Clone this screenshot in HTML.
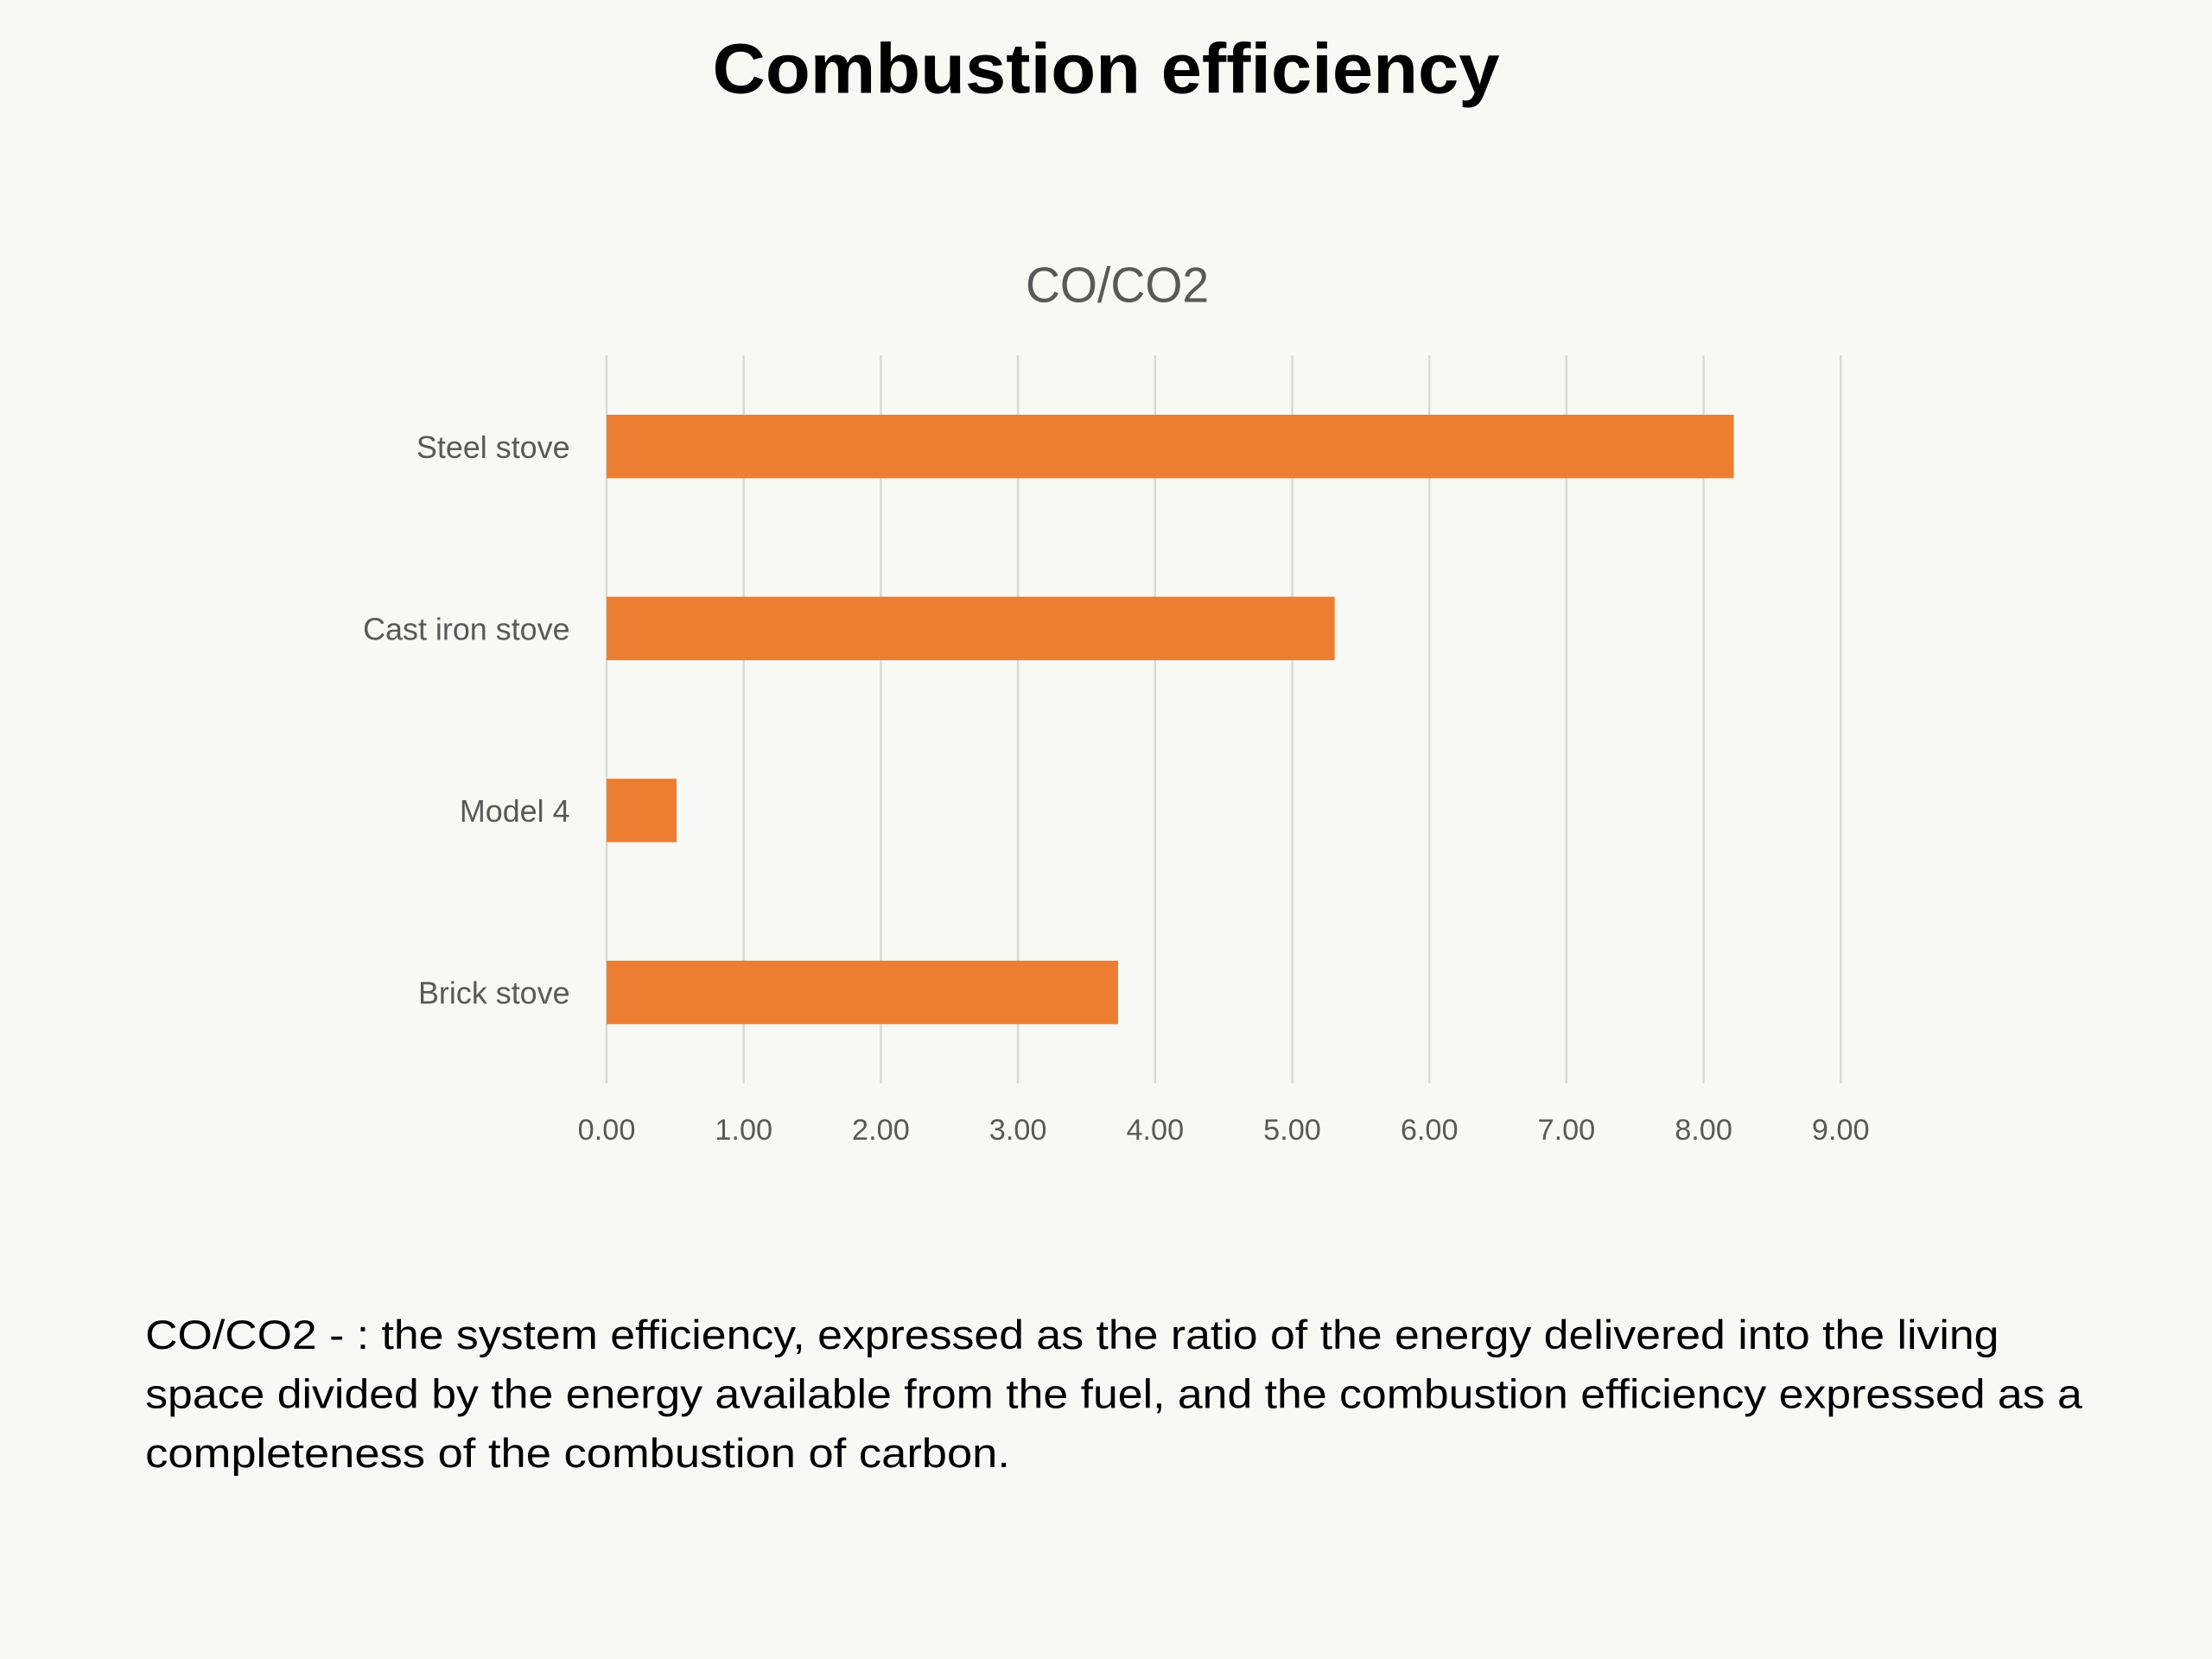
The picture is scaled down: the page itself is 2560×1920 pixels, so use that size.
<!DOCTYPE html>
<html><head><meta charset="utf-8"><style>
html,body{margin:0;padding:0;background:#f8f9f5;}
svg{display:block;}
text{font-family:"Liberation Sans",sans-serif;}
</style></head><body>
<svg width="2560" height="1920" viewBox="0 0 1568 1176" xmlns="http://www.w3.org/2000/svg">
<rect width="1568" height="1176" fill="#f8f9f5"/>
<text x="784" y="66" text-anchor="middle" font-size="50" font-weight="bold" fill="#000" textLength="558" lengthAdjust="spacingAndGlyphs">Combustion efficiency</text>
<text x="792" y="214" text-anchor="middle" font-size="35" fill="#595959" textLength="130" lengthAdjust="spacingAndGlyphs">CO/CO2</text>
<g id="grid"></g>
<g id="bars"></g>
<g id="cats"></g>
<g id="ticks"></g>
<g font-size="29" fill="#000">
<text x="103" y="956" textLength="1314" lengthAdjust="spacingAndGlyphs">CO/CO2 - : the system efficiency, expressed as the ratio of the energy delivered into the living</text>
<text x="103" y="998" textLength="1373" lengthAdjust="spacingAndGlyphs">space divided by the energy available from the fuel, and the combustion efficiency expressed as a</text>
<text x="103" y="1040" textLength="613" lengthAdjust="spacingAndGlyphs">completeness of the combustion of carbon.</text>
</g>
</svg>
<script>
const categories = ["Steel stove","Cast iron stove","Model 4","Brick stove"];
const values = [8.22, 5.31, 0.51, 3.73];
const tickValues = [0,1,2,3,4,5,6,7,8,9];
const tickLabels = ["0.00","1.00","2.00","3.00","4.00","5.00","6.00","7.00","8.00","9.00"];

const NS="http://www.w3.org/2000/svg";
const x0=430, xPer=97.2, plotTop=252, plotBottom=768, bandH=(plotBottom-plotTop)/categories.length, barH=45;
function xs(v){return x0+v*xPer;}
function yc(i){return plotTop+bandH*(i+0.5);}
function mk(tag,attrs,parent){const e=document.createElementNS(NS,tag);for(const k in attrs)e.setAttribute(k,attrs[k]);parent.appendChild(e);return e;}
const grid=document.getElementById('grid'),bars=document.getElementById('bars'),cats=document.getElementById('cats'),ticks=document.getElementById('ticks');
tickValues.forEach((t,i)=>{
  const l=mk('line',{x1:xs(t),x2:xs(t),y1:plotTop,y2:plotBottom,stroke:'#d9d9d9','stroke-width':1.5},grid);
  
  
  const tx=mk('text',{x:xs(t),y:808,'text-anchor':'middle','font-size':21,fill:'#595959'},ticks);
  tx.textContent=tickLabels[i];
  
  
});
categories.forEach((c,i)=>{
  const r=mk('rect',{x:x0,y:yc(i)-barH/2,width:xs(values[i])-x0,height:barH,fill:'#ed7d31'},bars);
  
  
  const t=mk('text',{x:404,y:yc(i)+8,'text-anchor':'end','font-size':22,fill:'#595959'},cats);
  t.textContent=c;
  
  
});
</script>
</body></html>
